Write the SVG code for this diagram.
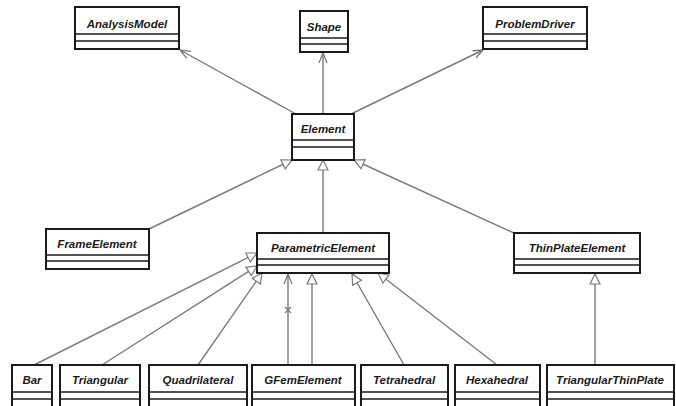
<svg xmlns="http://www.w3.org/2000/svg" width="676" height="406" viewBox="0 0 676 406">
<defs>
<style>
.box{fill:#fff;stroke:#1a1a1a;stroke-width:2}
.sep{stroke:#1a1a1a;stroke-width:1.5}
.lbl{font-family:"Liberation Sans",Arial,sans-serif;font-weight:bold;font-style:italic;font-size:11.5px;fill:#1a1a1a;text-anchor:middle}
.c{stroke:#7a7a7a;stroke-width:1.4;fill:none}
</style>
<marker id="open" viewBox="0 0 10 10" refX="10" refY="5" markerWidth="10" markerHeight="10" markerUnits="userSpaceOnUse" orient="auto">
<path d="M0,1 L10,5 L0,9" fill="none" stroke="#7a7a7a" stroke-width="1.3"/>
</marker>
<marker id="tri" viewBox="0 0 12 12" refX="11" refY="6" markerWidth="12" markerHeight="12" markerUnits="userSpaceOnUse" orient="auto">
<path d="M1,1 L11,6 L1,11 Z" fill="#fff" stroke="#7a7a7a" stroke-width="1.2"/>
</marker>
</defs>
<rect width="676" height="406" fill="#fff"/>
<g id="connectors">
<line class="c" x1="296" y1="114" x2="180" y2="50" marker-end="url(#open)"/>
<line class="c" x1="323" y1="114" x2="323" y2="53" marker-end="url(#open)"/>
<line class="c" x1="351" y1="114" x2="483" y2="50" marker-end="url(#open)"/>
<line class="c" x1="149" y1="229" x2="292" y2="160" marker-end="url(#tri)"/>
<line class="c" x1="323" y1="233" x2="323" y2="160" marker-end="url(#tri)"/>
<line class="c" x1="514" y1="233" x2="354" y2="160" marker-end="url(#tri)"/>
<line class="c" x1="34" y1="365" x2="257" y2="253" marker-end="url(#tri)"/>
<line class="c" x1="102" y1="365" x2="257" y2="266" marker-end="url(#tri)"/>
<line class="c" x1="198" y1="365" x2="262" y2="273" marker-end="url(#tri)"/>
<line class="c" x1="288" y1="365" x2="288" y2="274" marker-end="url(#open)"/>
<path class="c" d="M285,307 L291,313 M291,307 L285,313"/>
<line class="c" x1="312" y1="365" x2="312" y2="274" marker-end="url(#tri)"/>
<line class="c" x1="404" y1="365" x2="352" y2="274" marker-end="url(#tri)"/>
<line class="c" x1="497" y1="365" x2="378" y2="273" marker-end="url(#tri)"/>
<line class="c" x1="595" y1="365" x2="595" y2="274" marker-end="url(#tri)"/>
</g>
<g id="AnalysisModel">
<rect class="box" x="75" y="7" width="104" height="42"/>
<line class="sep" x1="75" y1="34" x2="179" y2="34"/><line class="sep" x1="75" y1="41" x2="179" y2="41"/>
<text class="lbl" x="127" y="28">AnalysisModel</text>
</g>
<g id="Shape">
<rect class="box" x="300" y="11" width="48" height="41"/>
<line class="sep" x1="300" y1="38" x2="348" y2="38"/><line class="sep" x1="300" y1="44" x2="348" y2="44"/>
<text class="lbl" x="324" y="31">Shape</text>
</g>
<g id="ProblemDriver">
<rect class="box" x="483" y="7" width="104" height="42"/>
<line class="sep" x1="483" y1="34" x2="587" y2="34"/><line class="sep" x1="483" y1="41" x2="587" y2="41"/>
<text class="lbl" x="535" y="28">ProblemDriver</text>
</g>
<g id="Element">
<rect class="box" x="292" y="114" width="62" height="46"/>
<line class="sep" x1="292" y1="140" x2="354" y2="140"/><line class="sep" x1="292" y1="147" x2="354" y2="147"/>
<text class="lbl" x="323" y="133">Element</text>
</g>
<g id="FrameElement">
<rect class="box" x="46" y="229" width="103" height="40"/>
<line class="sep" x1="46" y1="255" x2="149" y2="255"/><line class="sep" x1="46" y1="261" x2="149" y2="261"/>
<text class="lbl" x="97" y="248">FrameElement</text>
</g>
<g id="ParametricElement">
<rect class="box" x="257" y="233" width="132" height="40"/>
<line class="sep" x1="257" y1="259" x2="389" y2="259"/><line class="sep" x1="257" y1="265" x2="389" y2="265"/>
<text class="lbl" x="323" y="252">ParametricElement</text>
</g>
<g id="ThinPlateElement">
<rect class="box" x="514" y="233" width="126" height="40"/>
<line class="sep" x1="514" y1="259" x2="640" y2="259"/><line class="sep" x1="514" y1="265" x2="640" y2="265"/>
<text class="lbl" x="577" y="252">ThinPlateElement</text>
</g>
<g id="Bar">
<rect class="box" x="12" y="365" width="40" height="50"/>
<line class="sep" x1="12" y1="392" x2="52" y2="392"/><line class="sep" x1="12" y1="399" x2="52" y2="399"/>
<text class="lbl" x="32" y="384">Bar</text>
</g>
<g id="Triangular">
<rect class="box" x="60" y="365" width="80" height="50"/>
<line class="sep" x1="60" y1="392" x2="140" y2="392"/><line class="sep" x1="60" y1="399" x2="140" y2="399"/>
<text class="lbl" x="100" y="384">Triangular</text>
</g>
<g id="Quadrilateral">
<rect class="box" x="149" y="365" width="98" height="50"/>
<line class="sep" x1="149" y1="392" x2="247" y2="392"/><line class="sep" x1="149" y1="399" x2="247" y2="399"/>
<text class="lbl" x="198" y="384">Quadrilateral</text>
</g>
<g id="GFemElement">
<rect class="box" x="252" y="365" width="103" height="50"/>
<line class="sep" x1="252" y1="392" x2="355" y2="392"/><line class="sep" x1="252" y1="399" x2="355" y2="399"/>
<text class="lbl" x="303" y="384">GFemElement</text>
</g>
<g id="Tetrahedral">
<rect class="box" x="361" y="365" width="87" height="50"/>
<line class="sep" x1="361" y1="392" x2="448" y2="392"/><line class="sep" x1="361" y1="399" x2="448" y2="399"/>
<text class="lbl" x="404" y="384">Tetrahedral</text>
</g>
<g id="Hexahedral">
<rect class="box" x="455" y="365" width="85" height="50"/>
<line class="sep" x1="455" y1="392" x2="540" y2="392"/><line class="sep" x1="455" y1="399" x2="540" y2="399"/>
<text class="lbl" x="497" y="384">Hexahedral</text>
</g>
<g id="TriangularThinPlate">
<rect class="box" x="547" y="365" width="127" height="50"/>
<line class="sep" x1="547" y1="392" x2="674" y2="392"/><line class="sep" x1="547" y1="399" x2="674" y2="399"/>
<text class="lbl" x="610" y="384">TriangularThinPlate</text>
</g>
</svg>
